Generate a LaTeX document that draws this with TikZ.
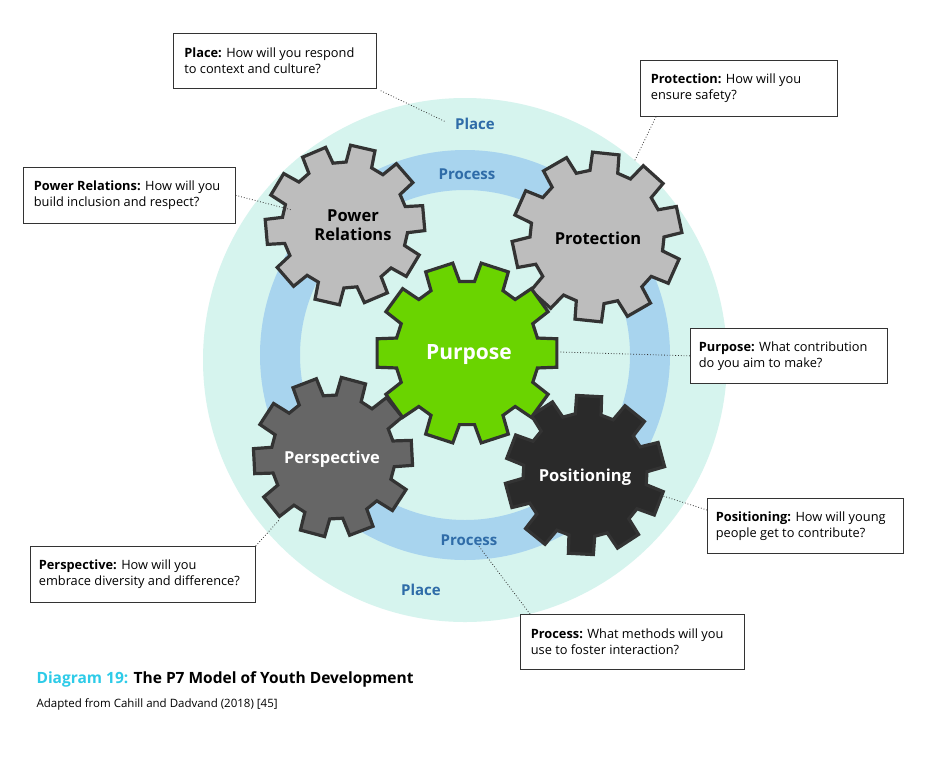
\documentclass[tikz,border=0pt]{standalone}
\usepackage{fontspec}
\setmainfont{Open Sans}
\definecolor{mint}{HTML}{D6F4EE}
\definecolor{ringblue}{HTML}{A8D4EE}
\definecolor{lbl}{HTML}{2F6CA8}
\definecolor{gearline}{HTML}{333333}
\definecolor{lgray}{HTML}{BDBDBD}
\definecolor{green}{HTML}{6AD400}
\definecolor{mgray}{HTML}{666666}
\definecolor{dgray}{HTML}{2A2A2A}
\definecolor{cyan}{HTML}{2DCBE8}
\begin{document}
\begin{tikzpicture}[x=1pt,y=-1pt,
  box/.style={draw=gearline,line width=0.7pt,fill=white,align=left,inner sep=0pt,anchor=north west,font=\fontsize{12.8}{16}\selectfont},
  dot/.style={draw=gearline,dotted,line width=0.8pt},
  lab/.style={text=lbl,font=\fontsize{15}{18}\selectfont\bfseries},
  geart/.style={font=\fontsize{16.5}{19}\selectfont\bfseries,align=center},
  gear/.pic={\draw[gearline,line width=3.2pt,fill=\gfill,rotate=\grot] (-12:\gr) \foreach \k in {0,...,9}{ -- (\k*36-9:\gR) -- (\k*36+9:\gR) -- (\k*36+12:\gr) -- (\k*36+24:\gr) } -- cycle;}]
\useasboundingbox (0,0) rectangle (945,756);
\fill[white] (0,0) rectangle (945,756);
\fill[mint] (465,360) circle (262);
\draw[ringblue,line width=40pt] (465,355) circle (185);
\node[lab] (pl1) at (475,124) {Place};
\node[lab] (pl2) at (421,590) {Place};
\node[lab] (pr1) at (467,174) {Process};
\node[lab] (pr2) at (469,540) {Process};
% gears
\def\gfill{lgray}\def\gR{80}\def\gr{63}\def\grot{5}
\pic at (345,225) {gear};
\def\gR{85}\def\gr{67}\def\grot{12}
\pic at (597,237) {gear};
\def\gfill{mgray}\def\gR{80}\def\gr{62}\def\grot{3}
\pic at (333,457) {gear};
\def\gfill{dgray}\def\gR{80}\def\gr{62}\def\grot{15}
\pic at (585,475) {gear};
\def\gfill{green}\def\gR{91}\def\gr{72}\def\grot{0}
\pic at (467,353) {gear};
\node[geart] (g1) at (353,225) {Power\\Relations};
\node[geart] (g2) at (598,238) {Protection};
\node[geart,text=white,font=\fontsize{21}{24}\selectfont\bfseries] (g3) at (469,355) {Purpose};
\node[geart,text=white] (g4) at (332,459) {Perspective};
\node[geart,text=white] (g5) at (585,477) {Positioning};
% boxes
\node[box,minimum width=203,minimum height=55] (b1) at (173,33) {\hspace*{9pt}\parbox{190pt}{\textbf{Place:} How will you respond\\to context and culture?}};
\node[box,minimum width=197,minimum height=56] (b2) at (640,60) {\hspace*{9pt}\parbox{185pt}{\textbf{Protection:} How will you\\ensure safety?}};
\node[box,minimum width=212,minimum height=56] (b3) at (23,167) {\hspace*{9pt}\parbox{200pt}{\textbf{Power Relations:} How will you\\build inclusion and respect?}};
\node[box,minimum width=197,minimum height=55] (b4) at (690,328) {\hspace*{7pt}\parbox{187pt}{\textbf{Purpose:} What contribution\\do you aim to make?}};
\node[box,minimum width=196,minimum height=55] (b5) at (707,498) {\hspace*{7pt}\parbox{186pt}{\textbf{Positioning:} How will young\\people get to contribute?}};
\node[box,minimum width=225,minimum height=56] (b6) at (30,546) {\hspace*{7pt}\parbox{215pt}{\textbf{Perspective:} How will you\\embrace diversity and difference?}};
\node[box,minimum width=224,minimum height=55] (b7) at (520,614) {\hspace*{9pt}\parbox{212pt}{\textbf{Process:} What methods will you\\use to foster interaction?}};
\coordinate (c1) at (446,122);
\coordinate (c2) at (634,162);
\coordinate (c3) at (292,210);
\coordinate (c4) at (560,352);
\coordinate (c5) at (660,495);
\coordinate (c6) at (280,519);
\coordinate (c7) at (478,545);
\draw[dot] ([xshift=4pt,yshift=-2pt]b1.south east) -- (c1);
\draw[dot] ([xshift=16pt]b2.south west) -- (c2);
\draw[dot] (b3.east) -- (c3);
\draw[dot] (b4.west) -- (c4);
\draw[dot] ([yshift=-12pt]b5.north west) -- (c5);
\draw[dot] (b6.north east) -- (c6);
\draw[dot] ([xshift=10pt]b7.north west) -- (c7);
\node[anchor=west,font=\fontsize{15.5}{18}\selectfont\bfseries] (t) at (33,679) {\textcolor{cyan}{Diagram 19:} The P7 Model of Youth Development};
\node[anchor=west,font=\fontsize{11.5}{13}\selectfont] (s) at (33,704) {Adapted from Cahill and Dadvand (2018) [45]};
\end{tikzpicture}
\end{document}
